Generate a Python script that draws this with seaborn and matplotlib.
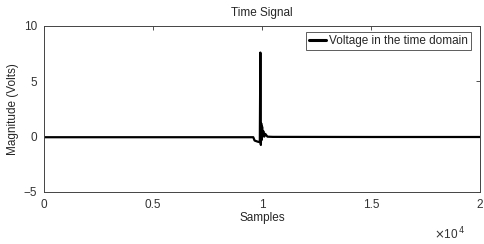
import numpy as np
import pandas as pd
import matplotlib
matplotlib.use("Agg")
import matplotlib.pyplot as plt
import seaborn as sns

# samples (index) and voltage
samples = [0, 5000, 9600, 9660, 9800, 9900, 9925, 9948, 9965, 9985, 10005,
           10030, 10060, 10100, 10150, 10250, 10500, 15000, 20000]
voltage = [-0.05, -0.05, -0.05, -0.35, -0.45, -0.5, 7.6, -0.75, 1.2, -0.3, 0.9,
           0.05, 0.5, 0.0, 0.25, 0.0, -0.02, -0.03, -0.03]

x_ticks = [0, 5000, 10000, 15000, 20000]
x_tick_labels = ["0", "0.5", "1", "1.5", "2"]
y_ticks = [-5, 0, 5, 10]

df = pd.DataFrame({"samples": samples, "voltage": voltage})

sns.set_style("white")
plt.rcParams["font.family"] = ["Liberation Sans", "DejaVu Sans"]

fig = plt.figure(figsize=(4.85, 2.44), dpi=100)
ax = fig.add_axes([44 / 485, 1 - 192 / 244, 436 / 485, 166 / 244])

sns.lineplot(data=df, x="samples", y="voltage", ax=ax, color="black",
             linewidth=1.6, label="Voltage in the time domain")

ax.set_xlim(0, 20000)
ax.set_ylim(-5, 10)
ax.set_xticks(x_ticks)
ax.set_xticklabels(x_tick_labels)
ax.set_yticks(y_ticks)
ax.tick_params(direction="in", length=3, width=0.6, labelsize=8.5,
               top=True, right=True, colors="#333333", pad=5)
for s in ax.spines.values():
    s.set_color("#444444")
    s.set_linewidth(0.7)

ax.set_title("Time Signal", fontsize=8.5, pad=7)
ax.set_xlabel("Samples", fontsize=8.5, labelpad=1)
ax.set_ylabel("Magnitude (Volts)", fontsize=8.5, labelpad=3)

ax.text(0.895, -0.25, r"$\times$10$^{\,4}$", transform=ax.transAxes,
        fontsize=8.5, ha="left", va="center", color="#333333")

leg = ax.legend(loc="upper right", fontsize=8.5, frameon=True, fancybox=False,
                handlelength=1.4, handletextpad=0.3, borderpad=0.25,
                bbox_to_anchor=(0.985, 0.98), borderaxespad=0.2)
leg.get_frame().set_edgecolor("#333333")
leg.get_frame().set_linewidth(0.7)
for line in leg.get_lines():
    line.set_linewidth(2.2)

fig.savefig("out.png", dpi=100)
